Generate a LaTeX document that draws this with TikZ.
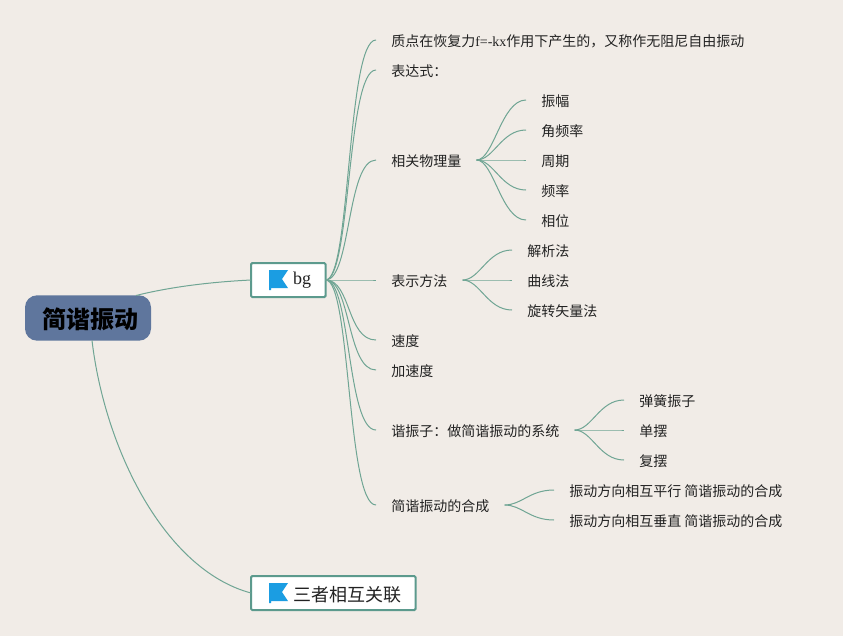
\documentclass[tikz,border=0pt]{standalone}
\usepackage{fontspec}
\setmainfont{Noto Sans CJK SC}
\newfontfamily\latn{Liberation Serif}
\usetikzlibrary{calc}
\definecolor{bgc}{HTML}{F1ECE7}
\definecolor{teal1}{HTML}{5C9A8D}
\definecolor{linkc}{HTML}{6FA594}
\definecolor{rootc}{HTML}{5F769D}
\definecolor{flagc}{HTML}{1B9DE2}
\definecolor{txt}{HTML}{222222}
\tikzset{
 x=0.75pt,y=-0.75pt,
 linkto/.style={to path={.. controls ($(\tikztostart)!0.5!(\tikztotarget |- \tikztostart)$) and ($(\tikztostart |- \tikztotarget)!0.42!(\tikztotarget)$) .. (\tikztotarget)}},
 fanto/.style={to path={.. controls ($(\tikztostart)!0.35!(\tikztotarget |- \tikztostart)$) and ($(\tikztostart |- \tikztotarget)!0.5!(\tikztotarget)$) .. (\tikztotarget)}},
 wire/.style={draw=linkc,line width=0.75pt},
 item/.style={anchor=west,inner xsep=11.25pt,inner ysep=0pt,text=txt,font=\fontsize{10.5pt}{12pt}\selectfont,text height=10pt,text depth=0.9pt},
 flagbox/.style={draw=teal1,fill=white,line width=1.5pt,rounded corners=1pt,anchor=west,outer sep=0pt,inner xsep=11pt,inner ysep=0pt,minimum height=25.5pt,text=txt,font=\fontsize{13.5pt}{16pt}\selectfont},
 rootbox/.style={fill=rootc,rounded corners=9pt,minimum width=94.5pt,minimum height=34pt,inner sep=0pt,text=black,font=\fontsize{18pt}{20pt}\selectfont\bfseries,text height=16pt,text depth=0.4pt},
}
\newcommand{\flagat}[1]{\begin{scope}[shift={(#1)}]
 \fill[flagc] (19,-10) -- (0,-10) -- (0,10) -- (2,10) -- (2,8) -- (19,8) -- (13,-1) -- cycle;
\end{scope}}
\begin{document}
\begin{tikzpicture}
\useasboundingbox (0,0) rectangle (843,636);
\fill[bgc] (0,0) rectangle (843,636);
\node[rootbox] (root) at (88,318) {\hspace{3pt}简谐振动};
\node[flagbox] (bg) at (251,280) {\hspace{20.5pt}{\latn bg}};
\node[flagbox,text height=13pt,text depth=0.6pt] (rel) at (251,593) {\hspace{20.5pt}三者相互关联};
\coordinate (f1) at (269,280);
\coordinate (f2) at (269,593);
\flagat{f1}
\flagat{f2}
\coordinate (r1) at (136,295.5);
\coordinate (r2) at (92,340.5);
\draw[wire] (r1) .. controls (170,287) and (210,282) .. (bg.west);
\draw[wire] (r2) .. controls (105,450) and (165,570) .. (rel.west);

\node[item] (a) at (376,40) {质点在恢复力{\latn f=-kx}作用下产生的，又称作无阻尼自由振动};
\node[item] (b) at (376,70) {表达式：};
\node[item] (c) at (376,160) {相关物理量};
\node[item] (d) at (376,280) {表示方法};
\node[item] (e) at (376,340) {速度};
\node[item] (f) at (376,370) {加速度};
\node[item] (g) at (376,430) {谐振子：做简谐振动的系统};
\node[item] (h) at (376,505) {简谐振动的合成};
\foreach \n in {a,b,c,d,e,f,g,h} \draw[wire] (bg.east) to[linkto] (\n.west);

\node[item] (c1) at (526,100) {振幅};
\node[item] (c2) at (526,130) {角频率};
\node[item] (c3) at (526,160) {周期};
\node[item] (c4) at (526,190) {频率};
\node[item] (c5) at (526,220) {相位};
\foreach \n in {c1,c2,c3,c4,c5} \draw[wire] (c.east) to[fanto] (\n.west);

\node[item] (d1) at (512,250) {解析法};
\node[item] (d2) at (512,280) {曲线法};
\node[item] (d3) at (512,310) {旋转矢量法};
\foreach \n in {d1,d2,d3} \draw[wire] (d.east) to[fanto] (\n.west);

\node[item] (g1) at (624,400) {弹簧振子};
\node[item] (g2) at (624,430) {单摆};
\node[item] (g3) at (624,460) {复摆};
\foreach \n in {g1,g2,g3} \draw[wire] (g.east) to[fanto] (\n.west);

\node[item] (h1) at (554,490) {振动方向相互平行 简谐振动的合成};
\node[item] (h2) at (554,520) {振动方向相互垂直 简谐振动的合成};
\foreach \n in {h1,h2} \draw[wire] (h.east) to[fanto] (\n.west);
\end{tikzpicture}
\end{document}
